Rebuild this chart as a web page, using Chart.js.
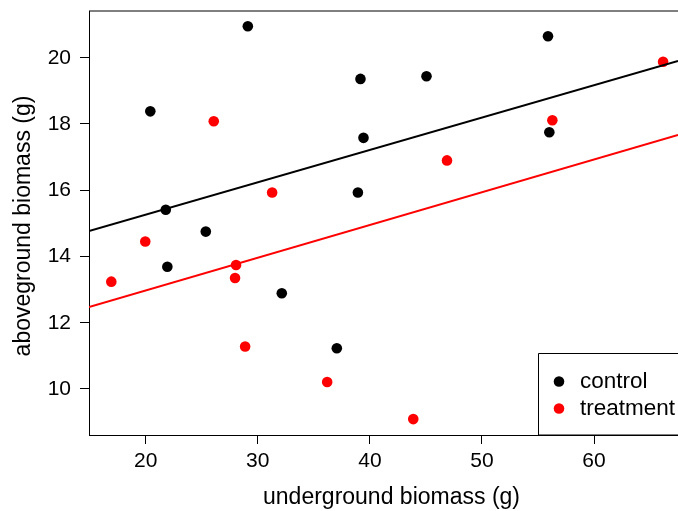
<!DOCTYPE html>
<html>
<head>
<meta charset="utf-8">
<script src="https://cdn.jsdelivr.net/npm/chart.js@4/dist/chart.umd.min.js"></script>
<style>
  html, body { margin: 0; padding: 0; background: #fff; }
  #c { display: block; }
</style>
</head>
<body>
<canvas id="c" width="678" height="511"></canvas>
<script>
// ---- data ----
const controlX = [20.41, 21.79, 25.36, 29.11, 21.93, 32.14, 37.05, 39.16, 45.05, 39.43, 38.93, 55.89, 56.01];
const controlY = [18.38, 15.41, 14.75, 20.95, 13.69, 12.89, 11.23, 19.36, 19.44, 17.58, 15.93, 20.65, 17.75];
const treatX   = [26.07, 31.28, 19.96, 16.93, 28.06, 27.97, 28.87, 36.19, 43.87, 46.88, 56.28, 66.16];
const treatY   = [18.08, 15.93, 14.45, 13.24, 13.74, 13.35, 11.28, 10.21, 9.09, 16.90, 18.11, 19.88];
// fitted lines: endpoints (x, y)
const fitX        = [14.94, 67.49];
const controlFitY = [14.77, 19.90];
const treatFitY   = [12.47, 17.67];
const xTicks = [20, 30, 40, 50, 60];
const yTicks = [10, 12, 14, 16, 18, 20];
const seriesNames = ['control', 'treatment'];
const xTitle = 'underground biomass (g)';
const yTitle = 'aboveground biomass (g)';

const FONT = "'Liberation Sans', Arial, Helvetica, sans-serif";
const pts = (xs, ys) => xs.map((x, i) => ({ x: x, y: ys[i] }));

const boxLegend = {
  id: 'boxLegend',
  afterDraw(chart) {
    const ctx = chart.ctx;
    const a = chart.chartArea;
    ctx.save();
    // top frame line
    ctx.strokeStyle = '#000';
    ctx.lineWidth = 1;
    ctx.beginPath();
    ctx.moveTo(a.left, a.top);
    ctx.lineTo(a.right + 5, a.top);
    ctx.stroke();
    // axis titles (plot box extends past the right edge, so titles are centred on it)
    ctx.fillStyle = '#000';
    ctx.font = '23px ' + FONT;
    ctx.textAlign = 'center';
    ctx.textBaseline = 'middle';
    ctx.fillText(xTitle, 391.5, 498);
    ctx.save();
    ctx.translate(24, 226);
    ctx.rotate(-Math.PI / 2);
    ctx.fillText(yTitle, 0, 0);
    ctx.restore();
    // legend box
    ctx.beginPath();
    ctx.rect(538.5, 353.5, 200, a.bottom - 353.5);
    ctx.stroke();
    const entries = chart.data.datasets.filter(d => d.type === 'scatter');
    entries.forEach((d, i) => {
      const y = 381.5 + i * 27;
      ctx.fillStyle = d.backgroundColor;
      ctx.beginPath();
      ctx.arc(559, y, 5.3, 0, Math.PI * 2);
      ctx.fill();
      ctx.fillStyle = '#000';
      ctx.font = '22.5px ' + FONT;
      ctx.textBaseline = 'middle';
      ctx.textAlign = 'left';
      ctx.fillText(d.label, 580, y);
    });
    ctx.restore();
  }
};

new Chart(document.getElementById('c'), {
  type: 'scatter',
  data: {
    datasets: [
      { type: 'scatter', label: seriesNames[0], data: pts(controlX, controlY),
        backgroundColor: '#000000', borderWidth: 0, pointRadius: 5.3, pointHoverRadius: 5.3, order: 1 },
      { type: 'scatter', label: seriesNames[1], data: pts(treatX, treatY),
        backgroundColor: '#ff0000', borderWidth: 0, pointRadius: 5.3, pointHoverRadius: 5.3, order: 1 },
      { type: 'line', label: 'control fit', data: pts(fitX, controlFitY),
        borderColor: '#000000', borderWidth: 2, pointRadius: 0, fill: false, order: 0 },
      { type: 'line', label: 'treatment fit', data: pts(fitX, treatFitY),
        borderColor: '#ff0000', borderWidth: 2, pointRadius: 0, fill: false, order: 0 }
    ]
  },
  options: {
    responsive: false,
    animation: false,
    layout: { autoPadding: false, padding: { top: 11, right: 0, left: 0, bottom: 0 } },
    plugins: { legend: { display: false }, tooltip: { enabled: false } },
    scales: {
      x: {
        type: 'linear', min: 14.94, max: 67.49,
        afterBuildTicks: s => { s.ticks = xTicks.map(v => ({ value: v })); },
        afterFit: s => { s.height = 76; s.paddingLeft = 0; s.paddingRight = 0; },
        grid: { drawOnChartArea: false, drawTicks: true, tickLength: 9, tickColor: '#000', lineWidth: 1 },
        border: { display: true, color: '#000', width: 1 },
        ticks: { color: '#000', font: { family: FONT, size: 21 }, padding: 5, maxRotation: 0, autoSkip: false },
        title: { display: false }
      },
      y: {
        type: 'linear', min: 8.61, max: 21.41,
        afterBuildTicks: s => { s.ticks = yTicks.map(v => ({ value: v })); },
        afterFit: s => { s.width = 89; s.paddingTop = 0; s.paddingBottom = 0; },
        grid: { drawOnChartArea: false, drawTicks: true, tickLength: 9, tickColor: '#000', lineWidth: 1 },
        border: { display: true, color: '#000', width: 1 },
        ticks: { color: '#000', font: { family: FONT, size: 21 }, padding: 9, autoSkip: false },
        title: { display: false }
      }
    }
  },
  plugins: [boxLegend]
});
</script>
</body>
</html>
